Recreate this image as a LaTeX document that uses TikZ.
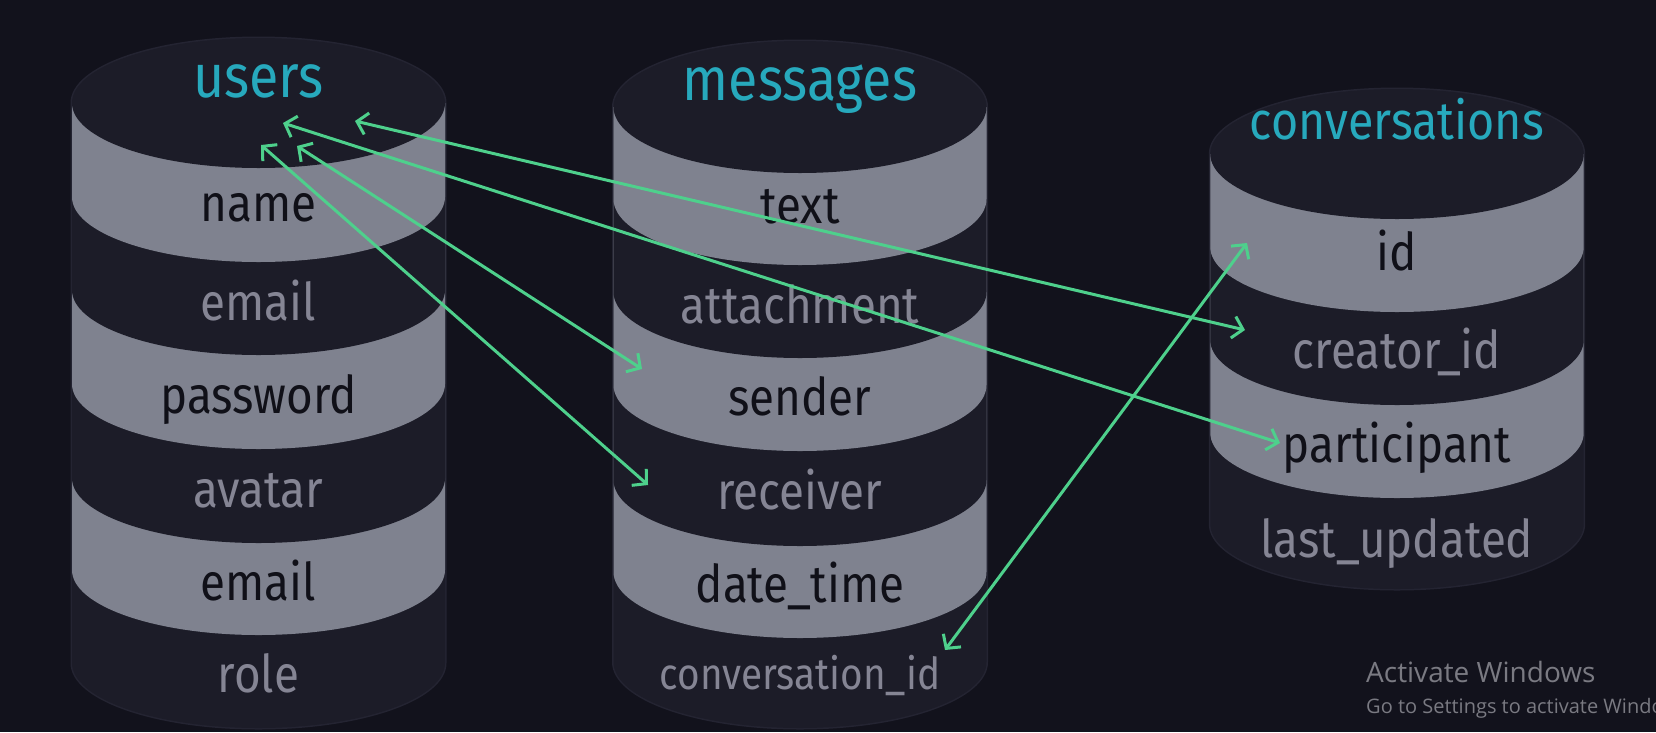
\documentclass[tikz,border=0pt]{standalone}
\usepackage{fontspec}
\setmainfont{Fira Sans}[FakeStretch=0.88]
\newfontfamily\winfont{Open Sans}
\usetikzlibrary{arrows.meta}
\definecolor{bg}{HTML}{12121C}
\definecolor{darkband}{HTML}{1C1C28}
\definecolor{lightband}{HTML}{7F828F}
\definecolor{rimc}{HTML}{242432}
\definecolor{titlec}{HTML}{27A9BD}
\definecolor{inkc}{HTML}{101018}
\definecolor{dimc}{HTML}{858594}
\definecolor{linkc}{HTML}{4ED08C}
\definecolor{winc}{HTML}{7A7A82}
\newcommand{\dbband}[5]{%
  \fill[#5] ({#1-#2},{-\capy}) -- ({#1-#2},{-#3})
    arc[start angle=180,end angle=360,x radius=#2pt,y radius=#4pt]
    -- ({#1+#2},{-\capy}) -- cycle;}
\newcommand{\dbrim}[4]{% cx rx ybottom ry
  \draw[rimc,line width=3pt] ({#1-#2},{-#3}) -- ({#1-#2},{-\capy})
    arc[start angle=180,end angle=0,x radius=#2pt,y radius=#4pt]
    -- ({#1+#2},{-#3})
    arc[start angle=0,end angle=-180,x radius=#2pt,y radius=#4pt] -- cycle;}
\tikzset{
  dbtitle/.style={anchor=base,text=titlec,inner sep=0pt},
  onlight/.style={anchor=base,text=inkc,font=\fontsize{52}{60}\selectfont,inner sep=0pt},
  ondark/.style={anchor=base,text=dimc,font=\fontsize{52}{60}\selectfont,inner sep=0pt},
  link/.style={linkc,line width=3pt,{Straight Barb[length=10pt,width=22pt]}-{Straight Barb[length=10pt,width=22pt]}},
  winline/.style={anchor=base west,text=winc,inner sep=0pt}
}
\begin{document}
\begin{tikzpicture}[x=1pt,y=1pt]
\useasboundingbox (0,0) rectangle (1656,-732);
\fill[bg] (0,0) rectangle (1656,-732);

% ---------- users ----------
\def\capy{103}
\dbrim{258.5}{186.5}{663}{65}
\dbband{258.5}{186.5}{663}{65}{darkband}
\dbband{258.5}{186.5}{570}{65}{lightband}
\dbband{258.5}{186.5}{478}{65}{darkband}
\dbband{258.5}{186.5}{384}{65}{lightband}
\dbband{258.5}{186.5}{290}{65}{darkband}
\dbband{258.5}{186.5}{197}{65}{lightband}
\fill[darkband] (258.5,-103) ellipse[x radius=186.5pt,y radius=65pt];
\node[dbtitle,font=\fontsize{61}{66}\selectfont] (users) at (258.5,-97) {users};
\node[onlight] (u-name) at (258.5,-221) {name};
\node[ondark] (u-email) at (258.5,-320) {email};
\node[onlight] (u-password) at (258.5,-413) {password};
\node[ondark] (u-avatar) at (258.5,-507) {avatar};
\node[onlight] (u-email2) at (258.5,-600) {email};
\node[ondark] (u-role) at (258.5,-692) {role};

% ---------- messages ----------
\def\capy{107}
\dbrim{800}{186.5}{662}{66}
\dbband{800}{186.5}{662}{66}{darkband}
\dbband{800}{186.5}{572}{66}{lightband}
\dbband{800}{186.5}{480}{66}{darkband}
\dbband{800}{186.5}{385}{66}{lightband}
\dbband{800}{186.5}{292}{66}{darkband}
\dbband{800}{186.5}{199}{66}{lightband}
\fill[darkband] (800,-107) ellipse[x radius=186.5pt,y radius=66pt];
\node[dbtitle,font=\fontsize{61}{66}\selectfont] (messages) at (800,-100) {messages};
\node[onlight] (m-text) at (800,-223) {text};
\node[ondark] (m-attachment) at (800,-323) {attachment};
\node[onlight] (m-sender) at (800,-415) {sender};
\node[ondark] (m-receiver) at (800,-509) {receiver};
\node[onlight] (m-datetime) at (800,-602) {date\_time};
\node[ondark,font=\fontsize{44}{50}\selectfont] (m-convid) at (800,-689) {conversation\_id};

% ---------- conversations ----------
\def\capy{154}
\dbrim{1397}{186.7}{524}{65}
\dbband{1397}{186.7}{524}{65}{darkband}
\dbband{1397}{186.7}{433}{65}{lightband}
\dbband{1397}{186.7}{340}{65}{darkband}
\dbband{1397}{186.7}{247}{65}{lightband}
\fill[darkband] (1397,-154) ellipse[x radius=186.7pt,y radius=65pt];
\node[dbtitle,font=\fontsize{53}{60}\selectfont] (conversations) at (1397,-139) {conversations};
\node[onlight] (c-id) at (1397,-270) {id};
\node[ondark] (c-creator) at (1397,-368) {creator\_id};
\node[onlight] (c-participant) at (1397,-462) {participant};
\node[ondark] (c-lastupdated) at (1397,-557) {last\_updated};

% ---------- connector ends ----------
\coordinate (ua) at (355,-121);
\coordinate (ub) at (283,-123);
\coordinate (uc) at (297,-146);
\coordinate (ud) at (261,-145);
\coordinate (ms) at (642,-369);
\coordinate (mr) at (648,-485);
\coordinate (mc) at (945,-650);
\coordinate (cid) at (1247,-243);
\coordinate (ccr) at (1245,-330);
\coordinate (cpa) at (1280,-443);

\draw[link] (ua) -- (ccr);
\draw[link] (ub) -- (cpa);
\draw[link] (uc) -- (ms);
\draw[link] (ud) -- (mr);
\draw[link] (mc) -- (cid);

% ---------- watermark ----------
\begin{scope}
\clip (0,0) rectangle (1656,-732);
\node[winline,font=\winfont\fontsize{28}{32}\selectfont] (act) at (1366,-682) {Activate Windows};
\node[winline,font=\winfont\fontsize{20}{23}\selectfont] (goto) at (1366,-713) {Go to Settings to activate Windows.};
\end{scope}
\end{tikzpicture}
\end{document}
